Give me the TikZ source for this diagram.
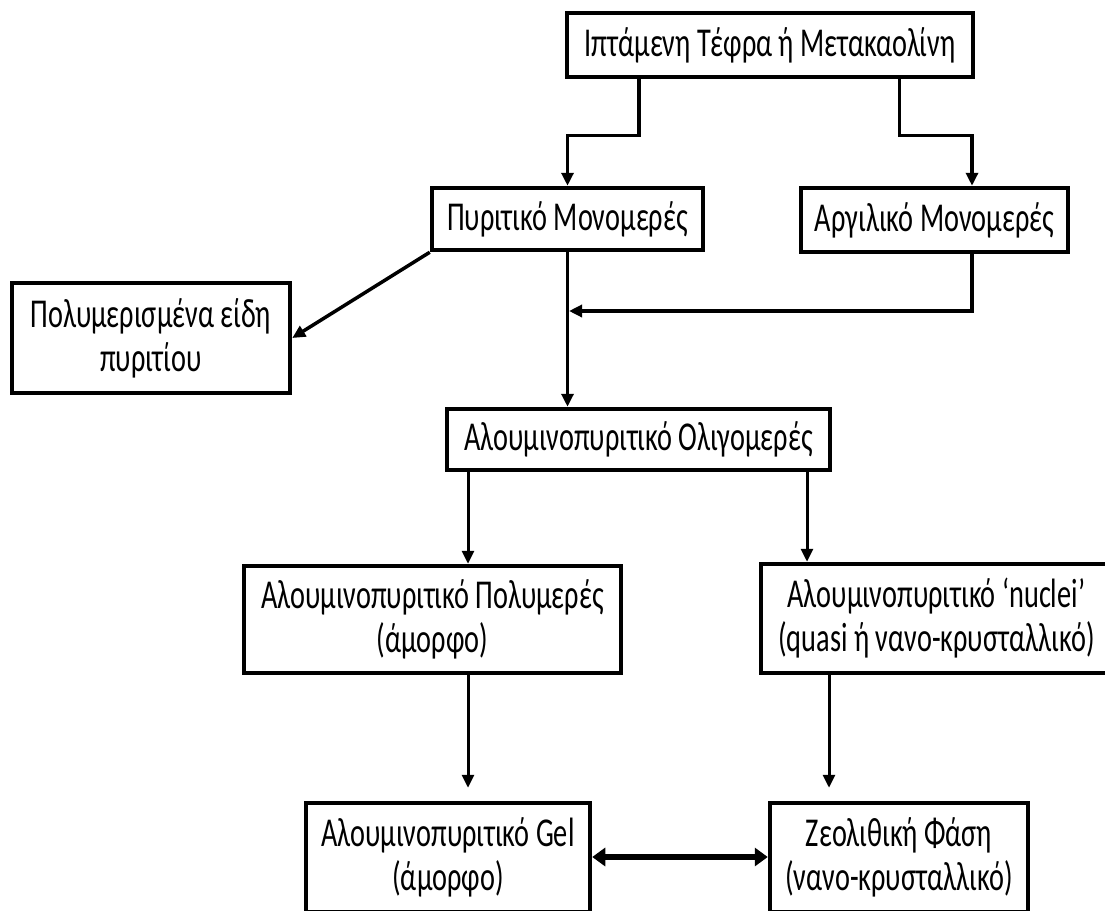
\documentclass[tikz,border=0pt]{standalone}
\usepackage{fontspec}
\setmainfont{Carlito}[FakeStretch=0.69]
\usetikzlibrary{arrows.meta}
\begin{document}
\begin{tikzpicture}[x=1pt,y=-1pt,
  box/.style={draw=black,line width=4.5pt,fill=white,rectangle,inner sep=0pt,align=center,
    font=\fontsize{41}{44}\selectfont},
  arr/.style={line width=3.5pt,-{Triangle[length=13pt,width=12pt]}},
  thinarr/.style={line width=3pt,-{Triangle[length=13pt,width=12pt]}},
  dbl/.style={line width=5.5pt,{Triangle[length=13pt,width=18pt]}-{Triangle[length=13pt,width=18pt]}}]
\useasboundingbox[fill=white] (0,0) rectangle (1105,910);
% boxes
\node[box,minimum width=406pt,minimum height=64pt] (top) at (770,45) {Ιπτάμενη Τέφρα ή Μετακαολίνη};
\node[box,minimum width=271pt,minimum height=62pt] (pyr) at (567.5,219) {Πυριτικό Μονομερές};
\node[box,minimum width=267pt,minimum height=64pt] (arg) at (934.5,220) {Αργιλικό Μονομερές};
\node[box,minimum width=278pt,minimum height=110pt] (pol) at (151,338) {Πολυμερισμένα είδη\\πυριτίου};
\node[box,minimum width=383pt,minimum height=61pt] (olig) at (638.5,439.5) {Αλουμινοπυριτικό Ολιγομερές};
\node[box,minimum width=377pt,minimum height=107pt] (poly) at (432.5,619.5) {Αλουμινοπυριτικό Πολυμερές\\(άμορφο)};
\node[box,minimum width=351pt,minimum height=109pt] (nuc) at (936.5,618.5) {Αλουμινοπυριτικό ‘nuclei’\\(quasi ή νανο-κρυσταλλικό)};
\node[box,minimum width=284pt,minimum height=109pt] (gel) at (448,857.5) {Αλουμινοπυριτικό Gel\\(άμορφο)};
\node[box,minimum width=258pt,minimum height=109pt] (zeo) at (899,857.5) {Ζεολιθική Φάση\\(νανο-κρυσταλλικό)};
% helper columns
\coordinate (c1) at (639,0);
\coordinate (c2) at (899.5,0);
\coordinate (c3) at (972,0);
\coordinate (c4) at (468,0);
\coordinate (c5) at (807,0);
\coordinate (c6) at (829,0);
\coordinate (j) at (569,311);
\coordinate (hy) at (0,857);
% connectors
\draw[arr] (top.south -| c1) -- ++(0,56) -| (pyr.north);
\draw[arr] (top.south -| c2) -- ++(0,56) -| (arg.north -| c3);
\draw[arr] (pyr.south west) -- (pol.east);
\draw[arr] (pyr.south) -- (olig.north -| pyr.south);
\draw[arr] (arg.south -| c3) |- (j);
\draw[thinarr] (olig.south -| c4) -- (poly.north -| c4);
\draw[thinarr] (olig.south -| c5) -- (nuc.north -| c5);
\draw[thinarr,shorten >=13pt] (poly.south -| c4) -- (gel.north -| c4);
\draw[thinarr,shorten >=13pt] (nuc.south -| c6) -- (zeo.north -| c6);
\draw[dbl] (gel.east |- hy) -- (zeo.west |- hy);
\end{tikzpicture}
\end{document}
